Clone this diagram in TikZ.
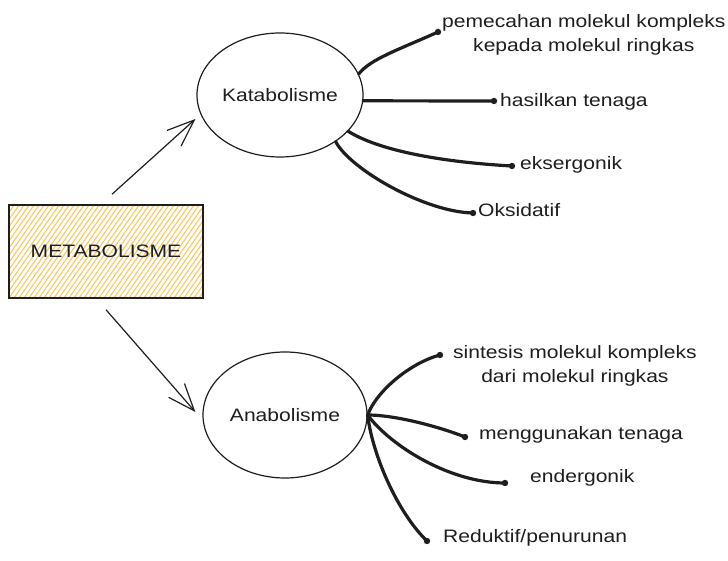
\documentclass[tikz,border=0pt]{standalone}
\usepackage{fontspec}
\setmainfont{Liberation Sans}[FakeStretch=1.17]
\usetikzlibrary{arrows.meta,calc,shapes.geometric}
\definecolor{ink}{RGB}{30,30,30}
\definecolor{hatchc}{RGB}{250,200,95}
\begin{document}
\begin{tikzpicture}[x=1pt,y=1pt,
  every node/.style={text=ink},
  lbl/.style={font=\fontsize{18}{24}\selectfont, inner sep=0pt, anchor=west},
  oneline/.style={text height=13pt, text depth=3.5pt},
  ell/.style={ellipse, draw=ink, line width=1.2pt, inner sep=0pt,
    font=\fontsize{18}{24}\selectfont},
  boxsty/.style={draw=ink, line width=1.5pt, inner sep=0pt,
    minimum width=194pt, minimum height=93pt,
    font=\fontsize{18}{24}\selectfont,
    path picture={
      \foreach \i in {-75,-70,...,200}
        \draw[hatchc, line width=1.1pt]
          ($(path picture bounding box.south west)+(\i,0)$) -- ++(55:140);
    }},
  arr/.style={draw=ink, line width=1.2pt, -{Straight Barb[length=27pt,width=21pt]}},
  br/.style={draw=ink, line width=3.2pt, line cap=round},
  dot/.style={fill=ink}
]
\fill[white] (0,0) rectangle (728,561);
\useasboundingbox (0,0) rectangle (728,561);

% main nodes
\node[boxsty] (box) at (106,309.5) {METABOLISME};
\node[ell, minimum width=166pt, minimum height=124pt] (kat) at (280,466) {Katabolisme};
\node[ell, minimum width=164pt, minimum height=126pt] (ana) at (285,146) {Anabolisme};

% arrows
\coordinate (a1s) at ($(box.north)+(6,10)$);
\coordinate (a1e) at ($(kat.west)+(-1,-24)$);
\draw[arr] (a1s) -- (a1e);
\coordinate (a2s) at ($(box.south)+(0,-11)$);
\coordinate (a2e) at ($(ana.west)+(-7,3)$);
\draw[arr] (a2s) -- (a2e);

% katabolisme labels
\node[lbl, align=center] (l1) at (442,526) {pemecahan molekul kompleks\\kepada molekul ringkas};
\node[lbl, oneline] (l2) at (500,459) {hasilkan tenaga};
\node[lbl, oneline] (l3) at (520,396) {eksergonik};
\node[lbl, oneline] (l4) at (478,349) {Oksidatif};

\coordinate (e1) at ($(l1.west)+(-4,3)$);
\coordinate (e2) at ($(l2.west)+(-6,1)$);
\coordinate (e3) at ($(l3.west)+(-8,-1)$);
\coordinate (e4) at ($(l4.west)+(-5,-1)$);

\draw[br] (kat.15) .. controls +(12,15) and +(-40,-18) .. (e1);
\draw[br] (kat.-4) -- (e2);
\draw[br] (kat.-28) .. controls +(30,-19) and +(-72,4) .. (e3);
\draw[br] (kat.-40) .. controls +(15,-28) and +(-48,1) .. (e4);
\foreach \e in {e1,e2,e3,e4} \fill[dot] (\e) circle (3.2);

% anabolisme labels
\node[lbl, align=center] (l5) at (453,195.5) {sintesis molekul kompleks\\dari molekul ringkas};
\node[lbl, oneline] (l6) at (479,126) {menggunakan tenaga};
\node[lbl, oneline] (l7) at (530,83) {endergonik};
\node[lbl, oneline] (l8) at (443,23) {Reduktif/penurunan};

\coordinate (e5) at ($(l5.west)+(-13,10.5)$);
\coordinate (e6) at ($(l6.west)+(-14,-2)$);
\coordinate (e7) at ($(l7.west)+(-25,-5)$);
\coordinate (e8) at ($(l8.west)+(-16,-3)$);

\draw[br] (ana.east) .. controls +(9,24) and +(-30,-8) .. (e5);
\draw[br] (ana.east) .. controls +(28,0) and +(-25,10) .. (e6);
\draw[br] (ana.east) .. controls +(23,-31) and +(-55,0) .. (e7);
\draw[br] (ana.east) .. controls +(5,-41) and +(-29,28) .. (e8);
\foreach \e in {e5,e6,e7,e8} \fill[dot] (\e) circle (3.2);
\end{tikzpicture}
\end{document}
